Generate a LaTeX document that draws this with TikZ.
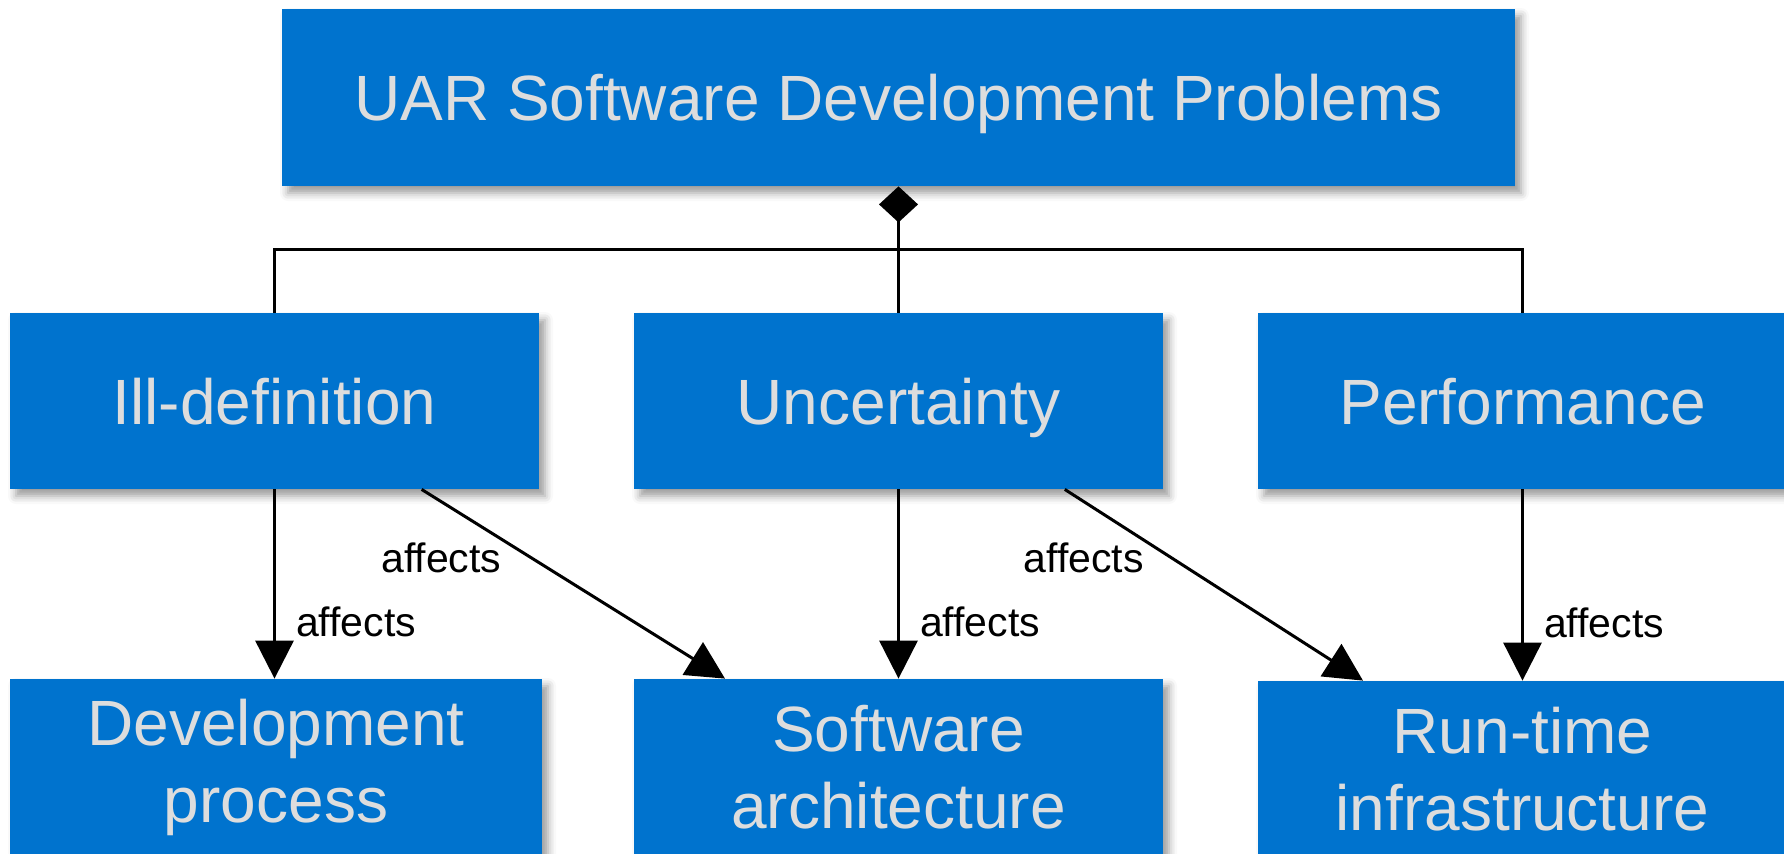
\documentclass[tikz,border=0pt]{standalone}
\usepackage{fontspec}
\setmainfont{Liberation Sans}
\usetikzlibrary{arrows.meta,shadows.blur}
\definecolor{boxblue}{RGB}{0,115,206}
\definecolor{boxtext}{RGB}{221,221,221}
\tikzset{
  box/.style={fill=boxblue,text=boxtext,align=center,inner sep=0pt,
    minimum width=264.5pt,minimum height=88pt,font=\fontsize{32}{38.5}\selectfont,
    blur shadow={shadow xshift=3pt,shadow yshift=-3.5pt,shadow blur radius=4pt,shadow opacity=40}},
  oneline/.style={text height=23.3pt,text depth=0pt},
  link/.style={line width=1.5pt,-{Triangle[width=19pt,length=19pt]}},
  lbl/.style={inner sep=0pt,font=\fontsize{20.5}{24}\selectfont},
}
\begin{document}
\begin{tikzpicture}[x=0.5pt,y=-0.5pt]
  \clip (0,0) rectangle (1784,853);
  \node[box,oneline,minimum width=616.5pt,minimum height=88.5pt] (top) at (898.5,97.5) {UAR Software Development Problems};
  \node[box,oneline] (illdef) at (274.5,401) {Ill-definition};
  \node[box,oneline] (uncert) at (898.5,401) {Uncertainty};
  \node[box,oneline] (perf) at (1522.5,401) {Performance};
  \node[box,minimum width=266pt] (dev) at (276,767) {Development\\process};
  \node[box] (softarch) at (898.5,767) {Software\\architecture};
  \node[box] (runtime) at (1522.5,769) {Run-time\\infrastructure};
  \coordinate (bar) at (898.5,249);
  \draw[line width=1.5pt] (illdef.north) |- (bar) -| (perf.north);
  \draw[line width=1.5pt,-{Diamond[width=19.5pt,length=18pt]}] (uncert.north) -- (top.south);
  \draw[link] (illdef.south) -- (illdef.south |- dev.north) node[lbl,pos=0.7,right=10pt] {affects};
  \draw[link] (illdef.-31.5) -- (softarch.153.4) node[lbl,pos=0.36,left=14pt] {affects};
  \draw[link] (uncert.south) -- (softarch.north) node[lbl,pos=0.7,right=10pt] {affects};
  \draw[link] (uncert.-28.9) -- (runtime.151.3) node[lbl,pos=0.36,left=13.5pt] {affects};
  \draw[link] (perf.south) -- (runtime.north) node[lbl,pos=0.7,right=10pt] {affects};
\end{tikzpicture}
\end{document}
